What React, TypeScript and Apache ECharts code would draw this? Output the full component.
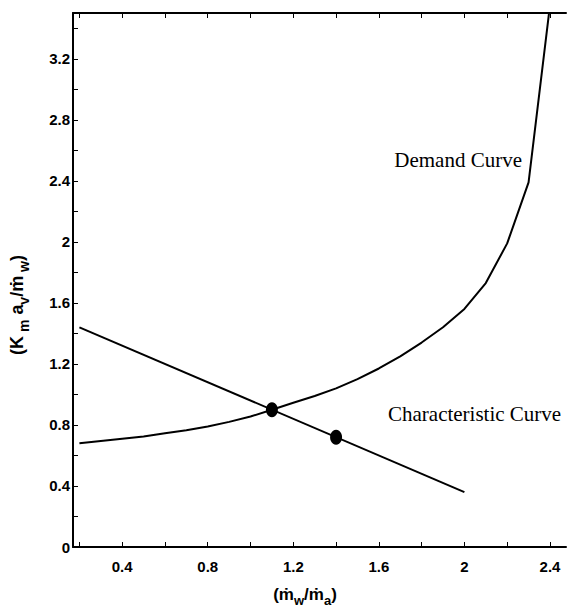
import React, { useEffect, useRef } from "react";
import * as echarts from "echarts";

const xTickValues = [0.2, 0.4, 0.6, 0.8, 1.0, 1.2, 1.4, 1.6, 1.8, 2.0, 2.2, 2.4];
const xLabelValues = [0.4, 0.8, 1.2, 1.6, 2, 2.4];
const yTickValues = [0, 0.2, 0.4, 0.6, 0.8, 1.0, 1.2, 1.4, 1.6, 1.8, 2.0, 2.2, 2.4, 2.6, 2.8, 3.0, 3.2, 3.4];
const yLabelValues = [0, 0.4, 0.8, 1.2, 1.6, 2, 2.4, 2.8, 3.2];

const demandX = [0.2, 0.3, 0.4, 0.5, 0.6, 0.7, 0.8, 0.9, 1.0, 1.1, 1.2, 1.3, 1.4, 1.5, 1.6, 1.7, 1.8, 1.9, 2.0, 2.1, 2.2, 2.3, 2.4];
const demandY = [0.68, 0.695, 0.71, 0.725, 0.745, 0.765, 0.79, 0.82, 0.855, 0.9, 0.945, 0.99, 1.04, 1.1, 1.17, 1.25, 1.34, 1.44, 1.56, 1.73, 1.99, 2.39, 3.55];

const charX = [0.2, 2.0];
const charY = [1.44, 0.36];

const opX = [1.1, 1.4];
const opY = [0.9, 0.72];

const tickFont = "'Liberation Sans Narrow', 'Liberation Sans', Arial, sans-serif";
const sansFont = "'Liberation Sans', Arial, sans-serif";

export default function App() {
  const ref = useRef<HTMLDivElement>(null);
  useEffect(() => {
    if (!ref.current) return;
    const chart = echarts.init(ref.current, undefined, { renderer: "svg" });
    const axisLine = { show: true, lineStyle: { color: "#000", width: 2 } };
    const tickLabel = {
      show: true,
      color: "#000",
      fontWeight: "bold",
      fontSize: 15,
      fontFamily: tickFont,
    };
    chart.setOption({
      animation: false,
      backgroundColor: "#fff",
      grid: { left: 73, right: 3, top: 13, bottom: 66, containLabel: false },
      xAxis: [
        {
          type: "value",
          min: 0.17,
          max: 2.475,
          position: "bottom",
          axisLine,
          axisTick: { show: true, inside: true, length: 5, customValues: xTickValues, lineStyle: { color: "#000", width: 1 } },
          axisLabel: { ...tickLabel, customValues: xLabelValues, margin: 12 },
          splitLine: { show: false },
        },
        {
          type: "value",
          min: 0.17,
          max: 2.475,
          position: "top",
          axisLine,
          axisTick: { show: true, inside: true, length: 5, customValues: xTickValues, lineStyle: { color: "#000", width: 1 } },
          axisLabel: { show: false },
          splitLine: { show: false },
        },
      ],
      yAxis: {
        type: "value",
        min: 0,
        max: 3.5,
        axisLine,
        axisTick: { show: true, inside: true, length: 5, customValues: yTickValues, lineStyle: { color: "#000", width: 1 } },
        axisLabel: { ...tickLabel, customValues: yLabelValues, margin: 3 },
        splitLine: { show: false },
      },
      series: [
        {
          type: "line",
          data: demandX.map((x, i) => [x, demandY[i]]),
          showSymbol: false,
          symbol: "none",
          lineStyle: { color: "#000", width: 2 },
          clip: true,
        },
        {
          type: "line",
          data: charX.map((x, i) => [x, charY[i]]),
          showSymbol: false,
          symbol: "none",
          lineStyle: { color: "#000", width: 2 },
        },
        {
          type: "scatter",
          data: opX.map((x, i) => [x, opY[i]]),
          symbol: "circle",
          symbolSize: [12, 15],
          itemStyle: { color: "#000", opacity: 1 },
          z: 5,
        },
      ],
      graphic: [
        {
          type: "text",
          x: 522,
          y: 160,
          style: {
            text: "Demand Curve",
            fill: "#000",
            font: "21px 'Liberation Serif', 'Times New Roman', serif",
            align: "right",
            verticalAlign: "middle",
          },
        },
        {
          type: "text",
          x: 388,
          y: 414,
          style: {
            text: "Characteristic Curve",
            fill: "#000",
            font: "21px 'Liberation Serif', 'Times New Roman', serif",
            align: "left",
            verticalAlign: "middle",
          },
        },
        {
          type: "text",
          x: 305,
          y: 597,
          style: {
            text: "{n|(ṁ}{s|w}{n|/ṁ}{s|a}{n|)}",
            fill: "#000",
            align: "center",
            verticalAlign: "middle",
            rich: {
              n: { fontSize: 17, fontWeight: "bold", fontFamily: sansFont, fill: "#000", lineHeight: 20, verticalAlign: "bottom", padding: [0, 0, 4, 0] },
              s: { fontSize: 13, fontWeight: "bold", fontFamily: sansFont, fill: "#000", lineHeight: 14, verticalAlign: "bottom" },
            },
          },
        },
        {
          type: "text",
          x: 20,
          y: 305,
          rotation: Math.PI / 2,
          style: {
            text: "{n|(K}{s| m}{n| a}{s|v}{n|/ṁ}{s| w}{n|)}",
            fill: "#000",
            align: "center",
            verticalAlign: "middle",
            rich: {
              n: { fontSize: 18, fontWeight: "bold", fontFamily: sansFont, fill: "#000", lineHeight: 22, verticalAlign: "bottom", padding: [0, 0, 5, 0] },
              s: { fontSize: 14, fontWeight: "bold", fontFamily: sansFont, fill: "#000", lineHeight: 16, verticalAlign: "bottom" },
            },
          },
        },
      ],
    });
    return () => chart.dispose();
  }, []);
  return <div ref={ref} style={{ position: "fixed", left: 0, top: 0, width: 569, height: 613 }} />;
}
